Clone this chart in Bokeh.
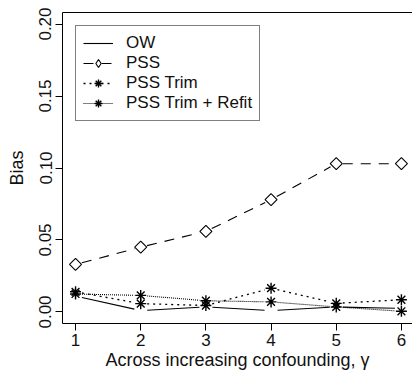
import math

from bokeh.plotting import figure
from bokeh.models import (ColumnDataSource, FixedTicker, PrintfTickFormatter,
                          LinearAxis, Legend, LegendItem, Range1d)
from bokeh.embed import file_html
from bokeh.resources import INLINE

# Bias across increasing confounding (gamma = 1..6)
gamma = [1, 2, 3, 4, 5, 6]
bias_ow = [0.011, 0.001, 0.0035, 0.001, 0.0035, 0.0025]
bias_pss = [0.033, 0.045, 0.056, 0.078, 0.103, 0.103]
bias_pss_trim = [0.014, 0.0058, 0.0045, 0.0165, 0.006, 0.0085]
bias_pss_refit = [0.0125, 0.0115, 0.0078, 0.007, 0.0035, 0.0005]

x_ticks = [1, 2, 3, 4, 5, 6]
y_ticks = [0.0, 0.05, 0.10, 0.15, 0.20]

FONT = "Liberation Sans"
FS = "17px"
FS_TITLE = "18px"

W, H = 412, 378
LEFT, RIGHT, TOP, BOTTOM = 62, 0, 12, 55
FRAME_W = W - LEFT - RIGHT
FRAME_H = H - TOP - BOTTOM
X_START, X_END = 0.8, 6.17
Y_START, Y_END = -0.008, 0.208

p = figure(width=W, height=H, output_backend="svg", toolbar_location=None,
           x_range=Range1d(X_START, X_END), y_range=Range1d(Y_START, Y_END),
           min_border_left=LEFT, min_border_right=RIGHT,
           min_border_top=TOP, min_border_bottom=BOTTOM,
           background_fill_color="white", border_fill_color="white")
p.outline_line_color = None
p.xgrid.visible = False
p.ygrid.visible = False


def style_axis(ax):
    ax.axis_line_color = "black"
    ax.axis_line_width = 1
    ax.major_tick_line_color = "black"
    ax.major_tick_out = 7
    ax.major_tick_in = 0
    ax.minor_tick_line_color = None
    ax.major_label_text_font = FONT
    ax.major_label_text_font_size = FS
    ax.major_label_text_color = "#111111"
    ax.axis_label_text_font = FONT
    ax.axis_label_text_font_size = FS_TITLE
    ax.axis_label_text_font_style = "normal"
    ax.axis_label_text_color = "#111111"


xa = p.xaxis[0]
style_axis(xa)
xa.ticker = FixedTicker(ticks=x_ticks)
xa.axis_label = "Across increasing confounding, γ"
xa.major_label_standoff = 3
xa.axis_label_standoff = 1

ya = p.yaxis[0]
style_axis(ya)
ya.ticker = FixedTicker(ticks=y_ticks)
ya.formatter = PrintfTickFormatter(format="%.2f")
ya.major_label_orientation = "vertical"
ya.axis_label = "Bias"
ya.major_label_standoff = 4
ya.axis_label_standoff = 10

# top edge of the plot box
top = LinearAxis(ticker=FixedTicker(ticks=[]), axis_line_color="black",
                 major_tick_line_color=None, minor_tick_line_color=None,
                 major_label_text_alpha=0)
p.add_layout(top, "above")


def gapped(xs, ys, gap_px=6.5):
    """Segments between points, shortened at both ends (R type='b' style)."""
    sx = FRAME_W / (X_END - X_START)
    sy = FRAME_H / (Y_END - Y_START)
    out = dict(x0=[], y0=[], x1=[], y1=[])
    for i in range(len(xs) - 1):
        dx = xs[i + 1] - xs[i]
        dy = ys[i + 1] - ys[i]
        length = math.hypot(dx * sx, dy * sy)
        f = gap_px / length
        if f >= 0.5:
            continue
        out["x0"].append(xs[i] + f * dx)
        out["y0"].append(ys[i] + f * dy)
        out["x1"].append(xs[i + 1] - f * dx)
        out["y1"].append(ys[i + 1] - f * dy)
    return ColumnDataSource(out)


seg_ow = p.segment("x0", "y0", "x1", "y1", source=gapped(gamma, bias_ow),
                   line_color="black", line_width=1.1)
seg_pss = p.segment("x0", "y0", "x1", "y1", source=gapped(gamma, bias_pss),
                    line_color="black", line_width=1.1, line_dash="10 8")
seg_trim = p.segment("x0", "y0", "x1", "y1", source=gapped(gamma, bias_pss_trim),
                     line_color="black", line_width=1.3, line_dash="2 4")
seg_refit = p.segment("x0", "y0", "x1", "y1", source=gapped(gamma, bias_pss_refit),
                      line_color="black", line_width=1.1, line_dash="1 1")

# small diamond key for the legend (legend keys are drawn unrotated); it sits
# inside the larger open diamonds drawn on top of it
key_pss = p.scatter(gamma, bias_pss, marker="diamond", size=8, fill_color="white",
                    line_color="black", line_width=1.1)
pts_pss = p.scatter(gamma, bias_pss, marker="square", angle=math.pi / 4, size=8.5,
                    fill_color="white", line_color="black", line_width=1.1)
pts_trim = p.scatter(gamma, bias_pss_trim, marker="asterisk", size=11,
                     line_color="black", line_width=1.4)
pts_refit = p.scatter(gamma, bias_pss_refit, marker="asterisk", size=11,
                      line_color="black", line_width=1.4)

legend = Legend(items=[
    LegendItem(label="OW", renderers=[seg_ow]),
    LegendItem(label="PSS", renderers=[seg_pss, key_pss]),
    LegendItem(label="PSS Trim", renderers=[seg_trim, pts_trim]),
    LegendItem(label="PSS Trim + Refit", renderers=[seg_refit, pts_refit]),
], location="top_left")
legend.border_line_color = "black"
legend.border_line_width = 1
legend.background_fill_color = "white"
legend.background_fill_alpha = 1
legend.padding = 7
legend.spacing = 0
legend.margin = 13
legend.glyph_width = 30
legend.glyph_height = 20
legend.label_height = 20
legend.label_standoff = 13
legend.label_text_font = FONT
legend.label_text_font_size = FS
legend.label_text_color = "#111111"
p.add_layout(legend)

open("out.html", "w").write(file_html(p, INLINE))
